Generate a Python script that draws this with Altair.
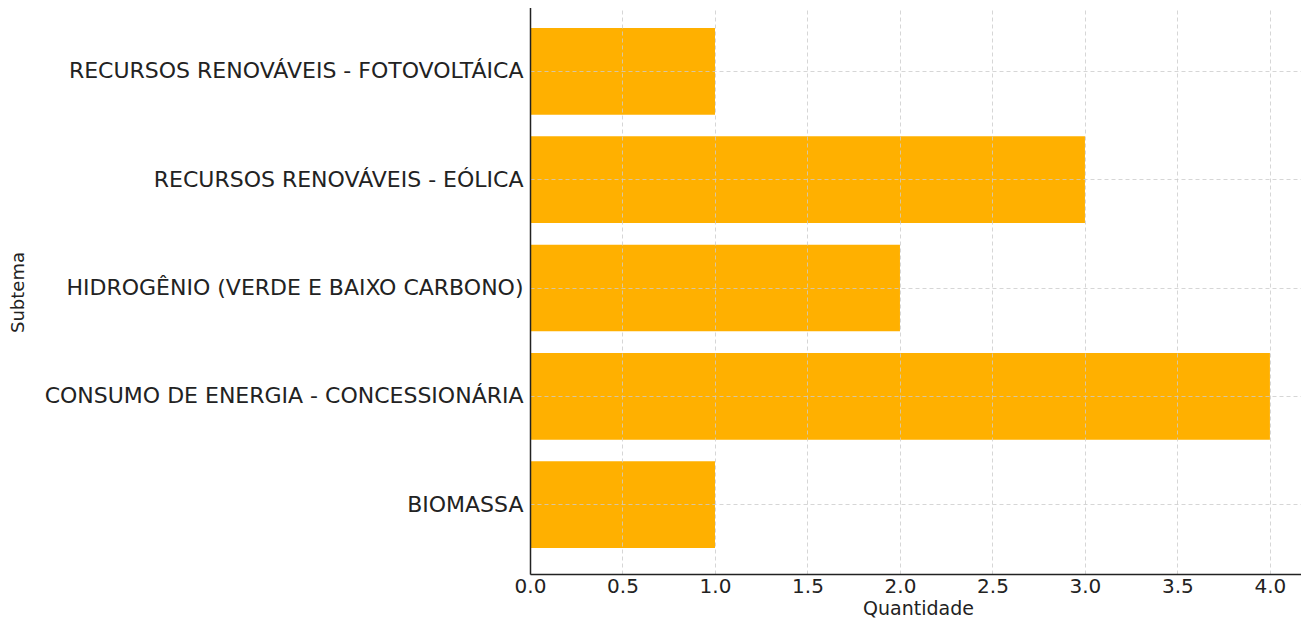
import altair as alt
import pandas as pd

subtemas = [
    "RECURSOS RENOVÁVEIS - FOTOVOLTÁICA",
    "RECURSOS RENOVÁVEIS - EÓLICA",
    "HIDROGÊNIO (VERDE E BAIXO CARBONO)",
    "CONSUMO DE ENERGIA - CONCESSIONÁRIA",
    "BIOMASSA",
]
quantidades = [1, 3, 2, 4, 1]
x_ticks = [0.0, 0.5, 1.0, 1.5, 2.0, 2.5, 3.0, 3.5, 4.0]

df = pd.DataFrame({"Subtema": subtemas, "Quantidade": quantidades})

chart = alt.Chart(df).mark_bar(color="#FFB000").encode(
    x=alt.X(
        "Quantidade:Q",
        scale=alt.Scale(domain=[0, 4.168], nice=False, zero=True),
        axis=alt.Axis(
            title="Quantidade",
            values=x_ticks,
            format=".1f",
            labelFont="DejaVu Sans",
            labelFontSize=20,
            labelColor="#222222",
            labelPadding=2,
            labelFlush=False,
            tickSize=0,
            titleFont="DejaVu Sans",
            titleFontSize=19,
            titleFontWeight="normal",
            titleColor="#222222",
            titleX=388,
            titleY=40,
            titleAlign="center",
            titleBaseline="alphabetic",
            grid=True,
            gridColor="#cccccc",
            gridDash=[4, 3],
            gridWidth=0.8,
            domainColor="#222222",
            domainWidth=1.5,
            zindex=1,
        ),
    ),
    y=alt.Y(
        "Subtema:N",
        sort=subtemas,
        scale=alt.Scale(paddingInner=0.2, paddingOuter=0.24),
        axis=alt.Axis(
            title="Subtema",
            labelFont="DejaVu Sans",
            labelFontSize=22,
            labelColor="#222222",
            labelPadding=7,
            labelLimit=600,
            tickSize=0,
            titleFont="DejaVu Sans",
            titleFontSize=18,
            titleFontWeight="normal",
            titleColor="#222222",
            titleAngle=-90,
            titleX=-512,
            titleY=290,
            titleAlign="center",
            titleBaseline="middle",
            grid=True,
            gridColor="#cccccc",
            gridDash=[4, 3],
            gridWidth=0.8,
            bandPosition=0.5,
            domainColor="#222222",
            domainWidth=1.5,
            zindex=1,
        ),
    ),
).properties(
    width=771,
    height=572,
    autosize=alt.AutoSizeParams(type="none"),
    padding={"left": 522, "top": -6, "right": 0, "bottom": 44},
).configure_view(stroke=None).configure(background="white")

chart.save("out.html", embed_options={"renderer": "svg", "actions": False})
